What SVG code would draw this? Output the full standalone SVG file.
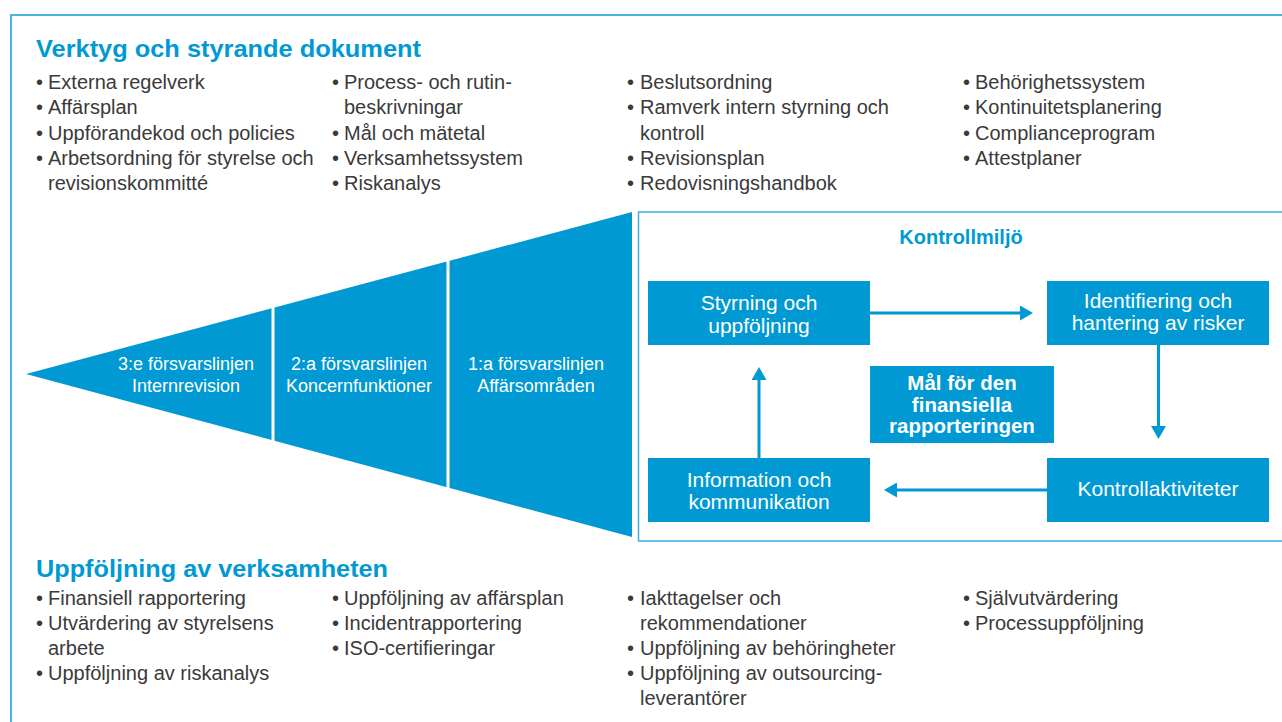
<svg xmlns="http://www.w3.org/2000/svg" width="1282" height="722" viewBox="0 0 1282 722">
  <defs>
    <style>
      .frame { fill: none; stroke: #4db4df; stroke-width: 2; }
      .box { fill: #0099d4; }
      .h { font-family: "Liberation Sans", Arial, sans-serif; font-weight: bold; font-size: 24px; fill: #0099d4; }
      .b { font-family: "Liberation Sans", Arial, sans-serif; font-size: 20px; fill: #3a3a3a; }
      .w { font-family: "Liberation Sans", Arial, sans-serif; font-size: 21px; fill: #ffffff; text-anchor: middle; }
      .wb { font-family: "Liberation Sans", Arial, sans-serif; font-size: 20.5px; font-weight: bold; fill: #ffffff; text-anchor: middle; }
      .t { font-family: "Liberation Sans", Arial, sans-serif; font-size: 18px; fill: #ffffff; text-anchor: middle; }
      .km { font-family: "Liberation Sans", Arial, sans-serif; font-size: 20px; font-weight: bold; fill: #0099d4; text-anchor: middle; }
      .conn { stroke: #0099d4; stroke-width: 3; fill: none; marker-end: url(#ah); }
      .div { stroke: #ffffff; stroke-width: 3; }
    </style>
    <marker id="ah" viewBox="0 0 13 15" refX="0" refY="7.5" markerWidth="13" markerHeight="15" markerUnits="userSpaceOnUse" orient="auto">
      <path d="M0,0 L13,7.5 L0,15 Z" fill="#0099d4"/>
    </marker>
  </defs>

  <rect width="1282" height="722" fill="#ffffff"/>

  <!-- outer frame (open to right and bottom) -->
  <path class="frame" d="M11,722 L11,15 L1282,15"/>

  <!-- Top section -->
  <g id="verktyg">
    <text class="h" x="36" y="57" textLength="385" lengthAdjust="spacingAndGlyphs">Verktyg och styrande dokument</text>
    <g class="b">
      <text x="36" y="89">•</text><text x="48" y="89">Externa regelverk</text>
      <text x="36" y="114">•</text><text x="48" y="114">Affärsplan</text>
      <text x="36" y="139.5">•</text><text x="48" y="139.5">Uppförandekod och policies</text>
      <text x="36" y="165">•</text><text x="48" y="165">Arbetsordning för styrelse och</text>
      <text x="48" y="190">revisionskommitté</text>

      <text x="332" y="89">•</text><text x="344" y="89">Process- och rutin-</text>
      <text x="344" y="114">beskrivningar</text>
      <text x="332" y="139.5">•</text><text x="344" y="139.5">Mål och mätetal</text>
      <text x="332" y="165">•</text><text x="344" y="165">Verksamhetssystem</text>
      <text x="332" y="190">•</text><text x="344" y="190">Riskanalys</text>

      <text x="627" y="89">•</text><text x="640" y="89">Beslutsordning</text>
      <text x="627" y="114">•</text><text x="640" y="114">Ramverk intern styrning och</text>
      <text x="640" y="139.5">kontroll</text>
      <text x="627" y="165">•</text><text x="640" y="165">Revisionsplan</text>
      <text x="627" y="190">•</text><text x="640" y="190">Redovisningshandbok</text>

      <text x="963" y="89">•</text><text x="975" y="89">Behörighetssystem</text>
      <text x="963" y="114">•</text><text x="975" y="114">Kontinuitetsplanering</text>
      <text x="963" y="139.5">•</text><text x="975" y="139.5">Complianceprogram</text>
      <text x="963" y="165">•</text><text x="975" y="165">Attestplaner</text>
    </g>
  </g>

  <!-- Lines of defence triangle -->
  <g id="forsvarslinjer">
    <polygon class="box" points="26,374 632,212 632,537"/>
    <line class="div" x1="273" y1="300" x2="273" y2="450"/>
    <line class="div" x1="448" y1="250" x2="448" y2="500"/>
    <text class="t" x="186" y="370">3:e försvarslinjen</text>
    <text class="t" x="186" y="392">Internrevision</text>
    <text class="t" x="359" y="370">2:a försvarslinjen</text>
    <text class="t" x="359" y="392">Koncernfunktioner</text>
    <text class="t" x="536" y="370">1:a försvarslinjen</text>
    <text class="t" x="536" y="392">Affärsområden</text>
  </g>

  <!-- Kontrollmiljö frame -->
  <g id="kontrollmiljo">
    <path d="M1282,212 L638.5,212 L638.5,541 L1282,541" fill="none" stroke="#3fafe0" stroke-width="1.5"/>
    <text class="km" x="961" y="244">Kontrollmiljö</text>
  </g>

  <g id="styrning">
    <rect class="box" x="648" y="281" width="222" height="64"/>
    <text class="w" x="759" y="310">Styrning och</text>
    <text class="w" x="759" y="333">uppföljning</text>
  </g>
  <g id="identifiering">
    <rect class="box" x="1047" y="281" width="222" height="64"/>
    <text class="w" x="1158" y="308">Identifiering och</text>
    <text class="w" x="1158" y="330">hantering av risker</text>
  </g>
  <g id="mal">
    <rect class="box" x="870" y="366" width="184" height="77"/>
    <text class="wb" x="962" y="390">Mål för den</text>
    <text class="wb" x="962" y="411.5">finansiella</text>
    <text class="wb" x="962" y="433">rapporteringen</text>
  </g>
  <g id="information">
    <rect class="box" x="648" y="458" width="222" height="64"/>
    <text class="w" x="759" y="487">Information och</text>
    <text class="w" x="759" y="509">kommunikation</text>
  </g>
  <g id="kontrollaktiviteter">
    <rect class="box" x="1047" y="458" width="222" height="64"/>
    <text class="w" x="1158" y="496">Kontrollaktiviteter</text>
  </g>

  <g id="connectors">
    <line class="conn" x1="870" y1="313" x2="1020" y2="313"/>
    <line class="conn" x1="1158.5" y1="345" x2="1158.5" y2="426"/>
    <line class="conn" x1="1047" y1="490" x2="897" y2="490"/>
    <line class="conn" x1="759" y1="458" x2="759" y2="380"/>
  </g>

  <!-- Bottom section -->
  <g id="uppfoljning">
    <text class="h" x="36" y="577" textLength="352" lengthAdjust="spacingAndGlyphs">Uppföljning av verksamheten</text>
    <g class="b">
      <text x="36" y="605">•</text><text x="48" y="605">Finansiell rapportering</text>
      <text x="36" y="630">•</text><text x="48" y="630">Utvärdering av styrelsens</text>
      <text x="48" y="655">arbete</text>
      <text x="36" y="680">•</text><text x="48" y="680">Uppföljning av riskanalys</text>

      <text x="332" y="605">•</text><text x="344" y="605">Uppföljning av affärsplan</text>
      <text x="332" y="630">•</text><text x="344" y="630">Incidentrapportering</text>
      <text x="332" y="655">•</text><text x="344" y="655">ISO-certifieringar</text>

      <text x="627" y="605">•</text><text x="640" y="605">Iakttagelser och</text>
      <text x="640" y="630">rekommendationer</text>
      <text x="627" y="655">•</text><text x="640" y="655">Uppföljning av behöringheter</text>
      <text x="627" y="680">•</text><text x="640" y="680">Uppföljning av outsourcing-</text>
      <text x="640" y="705">leverantörer</text>

      <text x="963" y="605">•</text><text x="975" y="605">Självutvärdering</text>
      <text x="963" y="630">•</text><text x="975" y="630">Processuppföljning</text>
    </g>
  </g>
</svg>
